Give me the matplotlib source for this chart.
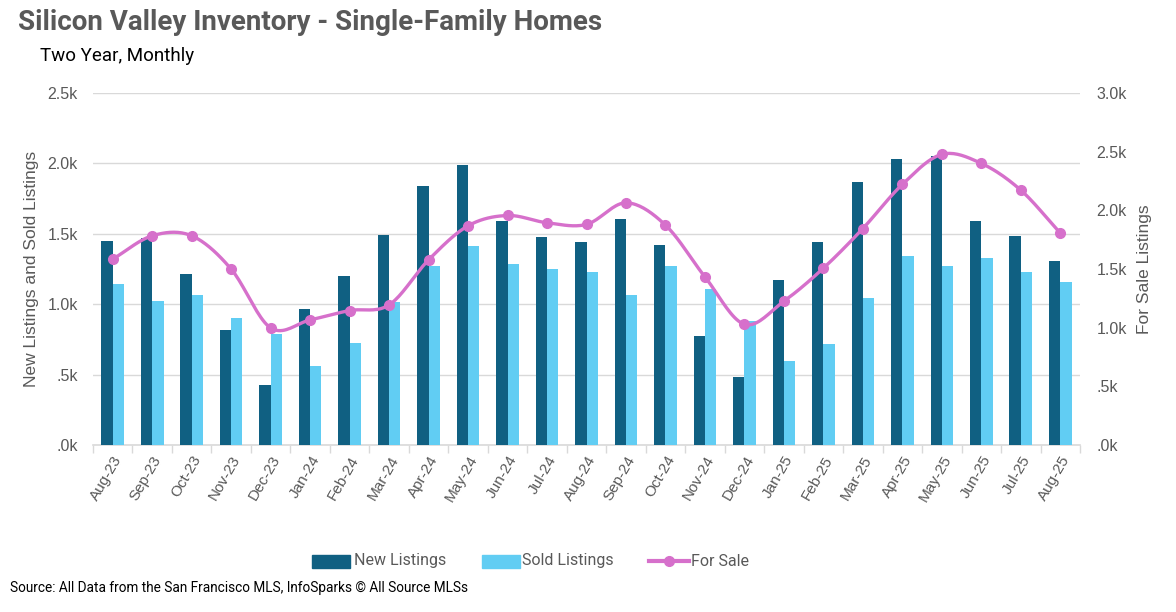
import numpy as np
import matplotlib
matplotlib.use("Agg")
import matplotlib.pyplot as plt
from matplotlib.lines import Line2D
from matplotlib.patches import Rectangle
from matplotlib.ticker import FuncFormatter, MultipleLocator

months = ["Aug-23", "Sep-23", "Oct-23", "Nov-23", "Dec-23", "Jan-24", "Feb-24", "Mar-24",
          "Apr-24", "May-24", "Jun-24", "Jul-24", "Aug-24", "Sep-24", "Oct-24", "Nov-24",
          "Dec-24", "Jan-25", "Feb-25", "Mar-25", "Apr-25", "May-25", "Jun-25", "Jul-25", "Aug-25"]
new_listings = [1450, 1470, 1213, 818, 429, 967, 1199, 1491, 1836, 1988, 1592, 1479, 1443,
                1604, 1424, 773, 481, 1171, 1443, 1867, 2028, 2052, 1592, 1486, 1306]
sold_listings = [1145, 1021, 1062, 900, 789, 559, 723, 1017, 1273, 1412, 1282, 1251, 1227,
                 1066, 1270, 1109, 879, 597, 716, 1043, 1344, 1270, 1329, 1227, 1156]
for_sale = [1584, 1783, 1783, 1499, 998, 1066, 1146, 1194, 1578, 1868, 1956, 1894, 1880,
            2064, 1874, 1433, 1029, 1226, 1507, 1845, 2221, 2477, 2400, 2172, 1806]
legend_labels = ["New Listings", "Sold Listings", "For Sale"]

C_NEW = "#106082"
C_SOLD = "#61CDF3"
C_LINE = "#D670CB"
GRAY = "#595959"
FONT = ["Roboto", "DejaVu Sans"]
FONT2 = ["Liberation Sans", "DejaVu Sans"]
W, H = 1176, 612


def catmull_rom(x, y, n=20):
    x = np.asarray(x, float)
    y = np.asarray(y, float)
    px = np.concatenate([[2 * x[0] - x[1]], x, [2 * x[-1] - x[-2]]])
    py = np.concatenate([[2 * y[0] - y[1]], y, [2 * y[-1] - y[-2]]])
    xs, ys = [], []
    t = np.linspace(0, 1, n, endpoint=False)
    for i in range(1, len(px) - 2):
        for arr, out in ((px, xs), (py, ys)):
            p0, p1, p2, p3 = arr[i - 1], arr[i], arr[i + 1], arr[i + 2]
            seg = 0.5 * ((2 * p1) + (-p0 + p2) * t + (2 * p0 - 5 * p1 + 4 * p2 - p3) * t ** 2
                         + (-p0 + 3 * p1 - 3 * p2 + p3) * t ** 3)
            out.extend(seg)
    xs.append(x[-1])
    ys.append(y[-1])
    return np.array(xs), np.array(ys)


fig = plt.figure(figsize=(W / 100, H / 100), dpi=100)
ax = fig.add_axes([93 / W, 1 - 445 / H, (1080 - 93) / W, (445 - 93) / H])
ax2 = ax.twinx()

x = np.arange(len(months))
w = 0.286
ax.bar(x - w / 2, new_listings, width=w, color=C_NEW, zorder=3)
ax.bar(x + w / 2, sold_listings, width=w, color=C_SOLD, zorder=3)

sx, sy = catmull_rom(x, for_sale)
ax2.plot(sx, sy, color=C_LINE, lw=2.4, solid_capstyle="round", zorder=4)
ax2.plot(x, for_sale, "o", color=C_LINE, markersize=7, zorder=5)

ax.set_xlim(-0.5, len(months) - 0.5)
ax.set_ylim(0, 2500)
ax2.set_ylim(0, 3000)
ax.yaxis.set_major_locator(MultipleLocator(500))
ax2.yaxis.set_major_locator(MultipleLocator(500))


def kfmt(v, pos):
    s = f"{v / 1000:.1f}k"
    if s.startswith("0"):
        s = s[1:]
    return s


ax.yaxis.set_major_formatter(FuncFormatter(kfmt))
ax2.yaxis.set_major_formatter(FuncFormatter(kfmt))

ax.grid(axis="y", color="#D9D9D9", lw=1, zorder=0)
for a in (ax, ax2):
    for s in a.spines.values():
        s.set_visible(False)
ax.spines["bottom"].set_visible(True)
ax.spines["bottom"].set_color("#D9D9D9")
ax.spines["bottom"].set_linewidth(1.2)

ax.set_xticks(x)
ax.set_xticklabels(months, rotation=60, ha="right", rotation_mode="anchor",
                   fontsize=11, color=GRAY, family=FONT2)
ax.tick_params(axis="x", length=0, pad=6)
ax.set_xticks(np.arange(-0.5, len(months)), minor=True)
ax.tick_params(axis="x", which="minor", length=6, color="#D9D9D9", width=1)

ax.tick_params(axis="y", length=0, pad=11, labelsize=11.5, labelcolor=GRAY)
ax2.tick_params(axis="y", length=0, pad=12, labelsize=11.5, labelcolor=GRAY)
for lab in ax.get_yticklabels() + ax2.get_yticklabels():
    lab.set_family(FONT2)

ax.set_ylabel("New Listings and Sold Listings", fontsize=12.5, color=GRAY, family=FONT2)
ax.yaxis.set_label_coords((39 - 93) / (1080 - 93), 0.5)
ax2.set_ylabel("For Sale Listings", fontsize=12.5, color=GRAY, family=FONT2)
ax2.yaxis.set_label_coords((1137 - 93) / (1080 - 93), 0.5)

fig.text(18 / W, 1 - 22 / H, "Silicon Valley Inventory - Single-Family Homes", fontsize=20,
         fontweight="bold", color=GRAY, family=FONT, va="center", ha="left")
fig.text(40 / W, 1 - 56 / H, "Two Year, Monthly", fontsize=13.5, color="black",
         family=FONT, va="center", ha="left")
fig.text(10 / W, 1 - 588 / H,
         "Source: All Data from the San Francisco MLS, InfoSparks \u00a9 All Source MLSs",
         fontsize=9.8, color="black", family=FONT, va="center", ha="left")

# legend, drawn manually in figure pixels
ly = 561
for px0, col in ((312, C_NEW), (482, C_SOLD)):
    fig.patches.append(Rectangle((px0 / W, 1 - (ly + 7) / H), 38 / W, 13 / H,
                                 transform=fig.transFigure, color=col))
fig.lines.append(Line2D([649 / W, 689 / W], [1 - ly / H, 1 - ly / H], transform=fig.transFigure,
                        color=C_LINE, lw=3))
fig.lines.append(Line2D([669 / W], [1 - ly / H], transform=fig.transFigure,
                        color=C_LINE, marker="o", markersize=7))
for tx, lab in zip((354, 522, 691), legend_labels):
    fig.text(tx / W, 1 - ly / H, lab, fontsize=11.5, color=GRAY, family=FONT,
             va="center", ha="left")

fig.savefig("out.png", dpi=100)
